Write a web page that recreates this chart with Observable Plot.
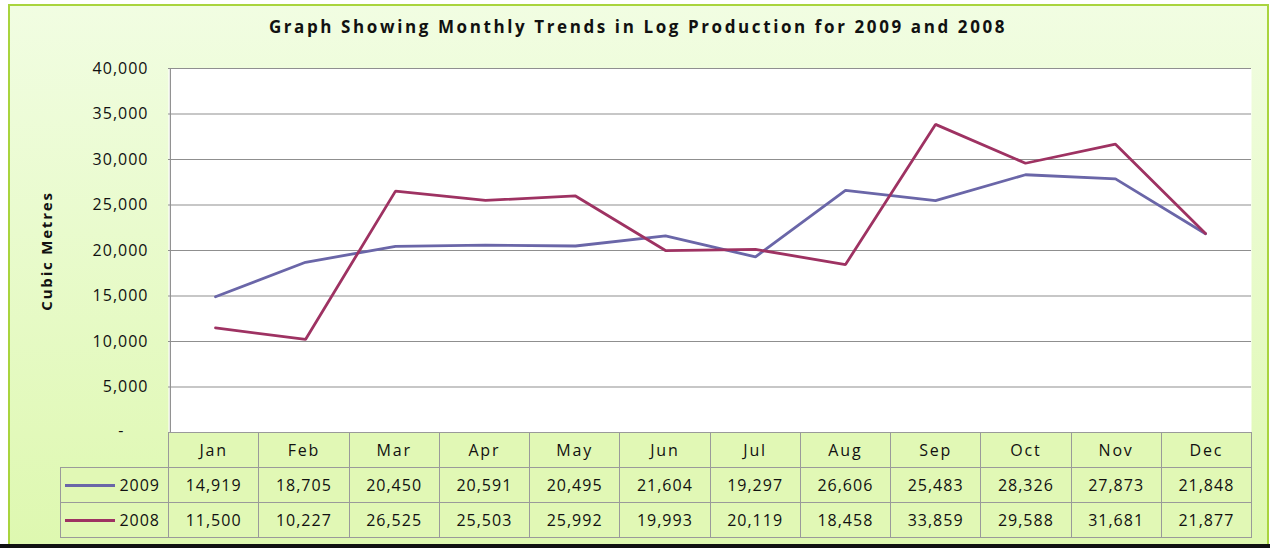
<!DOCTYPE html>
<html>
<head>
<meta charset="utf-8">
<script src="https://cdn.jsdelivr.net/npm/d3@7"></script>
<script src="https://cdn.jsdelivr.net/npm/@observablehq/plot@0.6"></script>
<style>
  html, body { margin: 0; padding: 0; background: #ffffff; width: 1270px; height: 548px; overflow: hidden; }
  body { position: relative; font-family: "Open Sans", "Liberation Sans", sans-serif; }
  #frame { position: absolute; left: 8px; top: 4px; width: 1257px; height: 538px;
    border: 2px solid #a9d43e; border-bottom: none;
    background: linear-gradient(#f1fde2, #def8b0); }
  #bottomline { position: absolute; left: 0; top: 544px; width: 1270px; height: 4px; background: #111; }
  #title { position: absolute; left: 0; top: 15px; width: 1276px; text-align: center;
    font-weight: bold; font-size: 17px; letter-spacing: 2.6px; color: #111; }
  #chart { position: absolute; left: 0; top: 0; }
  #ylabel { position: absolute; left: 46px; top: 251px; transform: translate(-50%, -50%) rotate(-90deg);
    font-weight: bold; font-size: 15px; letter-spacing: 1.8px; white-space: nowrap; color: #111; }
  table { position: absolute; border-collapse: collapse; font-size: 16px; letter-spacing: 1px; color: #111; }
  td { border: 1px solid #9a9a9a; background: #e1f8b5; text-align: center; padding: 0; height: 34px; }
  td.blank { border: none; background: transparent; }
  td.legend { text-align: right; padding-right: 8px; white-space: nowrap; }
  .sw { display: inline-block; width: 50px; height: 3px; vertical-align: middle; margin-right: 4px; position: relative; top: -1px; }
</style>
</head>
<body>
<div id="frame"></div>
<div id="bottomline"></div>
<div id="title">Graph Showing Monthly Trends in Log Production for 2009 and 2008</div>
<div id="chart"></div>
<div id="ylabel">Cubic Metres</div>
<script>
const months = ["Jan","Feb","Mar","Apr","May","Jun","Jul","Aug","Sep","Oct","Nov","Dec"];
const values2009 = [14919,18705,20450,20591,20495,21604,19297,26606,25483,28326,27873,21848];
const values2008 = [11500,10227,26525,25503,25992,19993,20119,18458,33859,29588,31681,21877];
const seriesNames = ["2009","2008"];
const seriesColors = ["#6a66a8","#9e3262"];
const yTicks = [5000,10000,15000,20000,25000,30000,35000,40000];

const rows = [
  ...months.map((m,i) => ({month: m, value: values2009[i], series: "2009"})),
  ...months.map((m,i) => ({month: m, value: values2008[i], series: "2008"}))
];

const fmt = d3.format(",");
const W = 1270, H = 452;
const ML = 168, MR = 19, MT = 68, MB = 20;

const plot = Plot.plot({
  width: W, height: H,
  marginLeft: ML, marginRight: MR, marginTop: MT, marginBottom: MB,
  style: { background: "transparent", fontFamily: "'Open Sans', 'Liberation Sans', sans-serif", fontSize: "16px", color: "#111", letterSpacing: "1px" },
  x: { type: "point", domain: months, padding: 0.5, axis: null },
  y: { domain: [0, 40000], axis: null },
  color: { domain: seriesNames, range: seriesColors },
  marks: [
    Plot.frame({ fill: "white", stroke: null }),
    Plot.ruleY([0, ...yTicks], { stroke: "#8f8f8f", strokeWidth: 1.2 }),
    Plot.ruleX([months[0]], { dx: -(1251-168)/24, stroke: "#8f8f8f", strokeWidth: 1.2 }),
    Plot.axisY(yTicks, { tickSize: 0, tickPadding: 20, tickFormat: fmt, fontSize: 16, label: null }),
    Plot.axisY([0], { tickSize: 0, tickPadding: 44, tickFormat: () => "-", fontSize: 16, label: null, dy: -2 }),
    Plot.line(rows, { x: "month", y: "value", stroke: "series", z: "series", strokeWidth: 2.8, strokeLinejoin: "miter" })
  ]
});
document.getElementById("chart").appendChild(plot);

// data table below the plot area
const colW = (1251 - 168) / 12;
const table = document.createElement("table");
table.style.left = "60px";
table.style.top = "432px";
const cols = document.createElement("colgroup");
const c0 = document.createElement("col"); c0.style.width = (168 - 60) + "px"; cols.appendChild(c0);
months.forEach(() => { const c = document.createElement("col"); c.style.width = colW + "px"; cols.appendChild(c); });
table.appendChild(cols);
table.style.tableLayout = "fixed";
table.style.width = (1251 - 60) + "px";

const hdr = document.createElement("tr");
const blank = document.createElement("td"); blank.className = "blank"; hdr.appendChild(blank);
months.forEach(m => { const td = document.createElement("td"); td.textContent = m; td.style.letterSpacing = "1.8px"; hdr.appendChild(td); });
table.appendChild(hdr);

[[seriesNames[0], values2009, seriesColors[0]], [seriesNames[1], values2008, seriesColors[1]]].forEach(([name, vals, col]) => {
  const tr = document.createElement("tr");
  const lg = document.createElement("td"); lg.className = "legend";
  const sw = document.createElement("span"); sw.className = "sw"; sw.style.background = col;
  lg.appendChild(sw); lg.appendChild(document.createTextNode(name));
  tr.appendChild(lg);
  vals.forEach(v => { const td = document.createElement("td"); td.textContent = fmt(v); tr.appendChild(td); });
  table.appendChild(tr);
});
document.body.appendChild(table);
</script>
</body>
</html>
